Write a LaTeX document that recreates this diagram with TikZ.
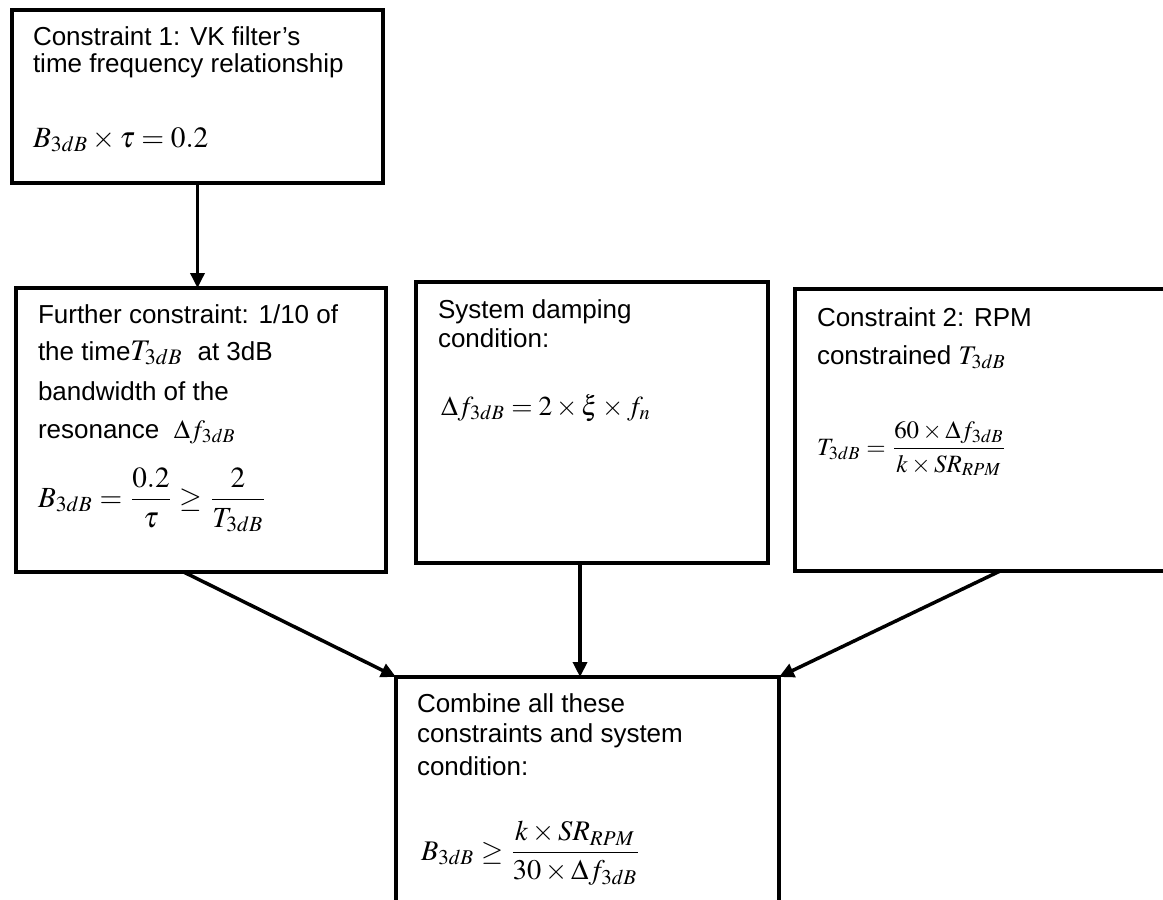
\documentclass[tikz,border=0pt]{standalone}
\usepackage{mathptmx}
\usepackage{amsmath}
\usepackage{graphicx}
\usepackage{fontspec}
\setmainfont{Liberation Sans}
\usetikzlibrary{arrows.meta,calc}
\newcommand\mth[2]{\scalebox{#1}{\normalsize$#2$}}
\begin{document}
\begin{tikzpicture}[x=1bp,y=-1bp,
  box/.style={draw,line width=3.5bp,anchor=north west,inner sep=0pt,outer sep=0pt},
  txt/.style={anchor=base west,inner sep=0pt,outer sep=0pt,font=\fontsize{26bp}{30bp}\selectfont},
  eq/.style={anchor=base west,inner sep=0pt,outer sep=0pt,font=\normalsize},
  conn/.style={line width=3.5bp,-{Triangle[length=15bp,width=14bp]}}]
\useasboundingbox (0,0) rectangle (1163,900);
% boxes
\node[box,minimum width=371bp,minimum height=173bp] (b1) at (12,10) {};
\node[box,minimum width=370bp,minimum height=284bp] (b2) at (16,288) {};
\node[box,minimum width=352bp,minimum height=281bp] (b3) at (416,282) {};
\node[box,minimum width=390bp,minimum height=282bp] (b4) at (795,289) {};
\node[box,minimum width=383bp,minimum height=253bp] (b5) at (396,677) {};
% box 1 text
\node[txt] (t11) at (33,45) {Constraint 1: VK filter’s};
\node[txt] (t12) at (33,72) {time frequency relationship};
\node[eq] (f1) at (33,147) {\mth{2.95}{B_{3dB}\times\tau=0.2}};
% box 2 text
\node[txt] (t21) at (38,323) {Further constraint: 1/10 of};
\node[txt] (t22) at (38,360) {the time\mth{3.0}{T_{3dB}}\ \ at 3dB};
\node[txt] (t23) at (38,400) {bandwidth of the};
\node[txt] (t24) at (38,438) {resonance \ \mth{2.65}{\Delta f_{3dB}}};
\node[eq] (f2) at (38,507) {\mth{2.93}{B_{3dB}=\dfrac{0.2}{\tau}\geq\dfrac{2}{T_{3dB}}}};
% box 3 text
\node[txt] (t31) at (438,318) {System damping};
\node[txt] (t32) at (438,347) {condition:};
\node[eq] (f3) at (441,415) {\mth{2.75}{\Delta f_{3dB}=2\times\xi\times f_n}};
% box 4 text
\node[txt] (t41) at (817,326) {Constraint 2: RPM};
\node[txt] (t42) at (817,364) {constrained \mth{2.7}{T_{3dB}}};
\node[eq] (f4) at (817,455) {\mth{2.5}{T_{3dB}=\dfrac{60\times\Delta f_{3dB}}{k\times SR_{RPM}}}};
% box 5 text
\node[txt] (t51) at (417,712) {Combine all these};
\node[txt] (t52) at (417,742) {constraints and system};
\node[txt] (t53) at (417,775) {condition:};
\node[eq] (f5) at (421,860) {\mth{2.85}{B_{3dB}\geq\dfrac{k\times SR_{RPM}}{30\times\Delta f_{3dB}}}};
% connectors
\coordinate (s2) at ($(b2.south west)!0.453!(b2.south east)$);
\coordinate (s3) at ($(b3.south west)!0.466!(b3.south east)$);
\coordinate (s4) at ($(b4.south west)!0.526!(b4.south east)$);
\draw[conn] (b1.south) -- (b1.south |- b2.north);
\draw[conn] (s2) -- (b5.north west);
\draw[conn] (s3) -- (s3 |- b5.north);
\draw[conn] (s4) -- (b5.north east);
\end{tikzpicture}
\end{document}
